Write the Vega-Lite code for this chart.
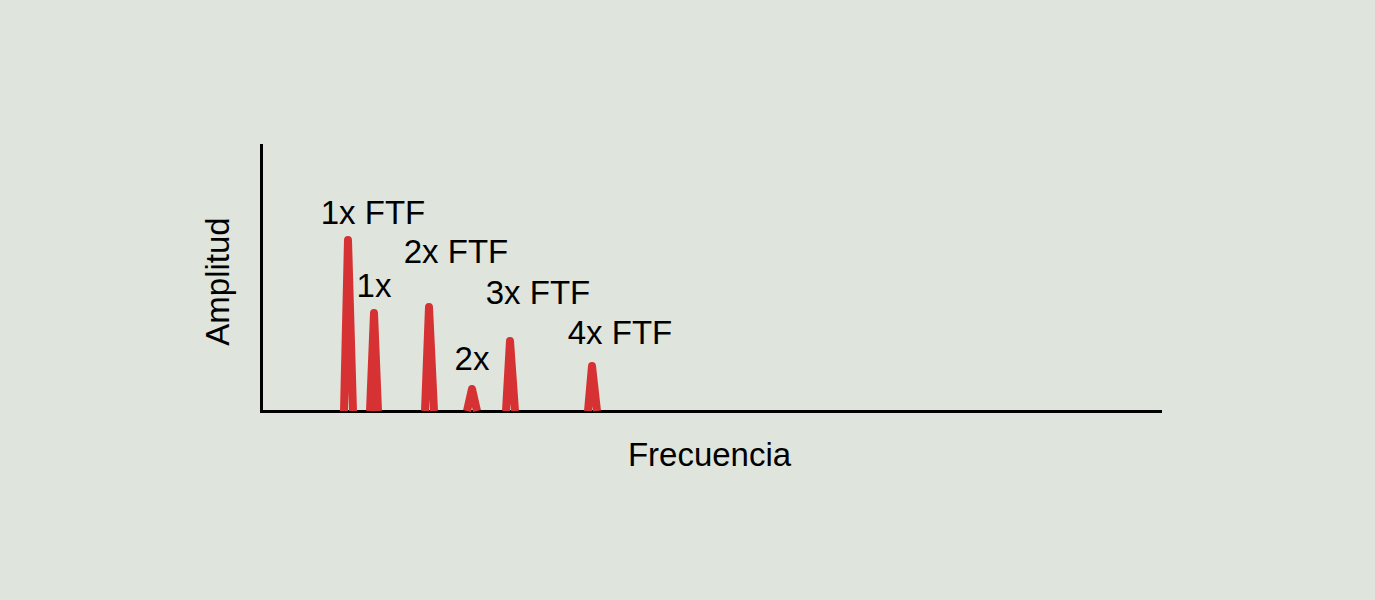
{
  "$schema": "https://vega.github.io/schema/vega-lite/v6.json",
  "width": 899,
  "height": 266,
  "autosize": {"type": "none"},
  "padding": {"left": 261, "top": 145, "right": 215, "bottom": 189},
  "background": "#dfe5dc",
  "config": {
    "view": {"stroke": null},
    "font": "Liberation Sans",
    "axis": {
      "domainColor": "#000000",
      "domainWidth": 3,
      "domainCap": "square",
      "ticks": false,
      "labels": false,
      "grid": false,
      "titleFont": "Liberation Sans",
      "titleFontSize": 33,
      "titleFontWeight": "normal",
      "titleColor": "#000000",
      "zindex": 1
    }
  },
  "datasets": {
    "peaks": [
      {"peak": "p1", "i": 0, "freq": 83, "amp": 0},
      {"peak": "p1", "i": 1, "freq": 87, "amp": 171},
      {"peak": "p1", "i": 2, "freq": 92, "amp": 0},
      {"peak": "p2", "i": 0, "freq": 109, "amp": 0},
      {"peak": "p2", "i": 1, "freq": 113, "amp": 98},
      {"peak": "p2", "i": 2, "freq": 117, "amp": 0},
      {"peak": "p3", "i": 0, "freq": 164, "amp": 0},
      {"peak": "p3", "i": 1, "freq": 168, "amp": 104},
      {"peak": "p3", "i": 2, "freq": 173, "amp": 0},
      {"peak": "p4", "i": 0, "freq": 206, "amp": 0},
      {"peak": "p4", "i": 1, "freq": 211, "amp": 22},
      {"peak": "p4", "i": 2, "freq": 216, "amp": 0},
      {"peak": "p5", "i": 0, "freq": 245, "amp": 0},
      {"peak": "p5", "i": 1, "freq": 249, "amp": 70},
      {"peak": "p5", "i": 2, "freq": 254, "amp": 0},
      {"peak": "p6", "i": 0, "freq": 327, "amp": 0},
      {"peak": "p6", "i": 1, "freq": 331, "amp": 45},
      {"peak": "p6", "i": 2, "freq": 336, "amp": 0}
    ],
    "labels": [
      {"label": "1x FTF", "freq": 112, "amp": 187},
      {"label": "1x", "freq": 113, "amp": 114},
      {"label": "2x FTF", "freq": 195, "amp": 148},
      {"label": "2x", "freq": 211, "amp": 41},
      {"label": "3x FTF", "freq": 277, "amp": 107},
      {"label": "4x FTF", "freq": 359, "amp": 67}
    ]
  },
  "layer": [
    {
      "data": {"name": "peaks"},
      "mark": {"type": "line", "color": "#d63233", "strokeWidth": 8, "strokeJoin": "round", "strokeCap": "butt"},
      "encoding": {
        "x": {"field": "freq", "type": "quantitative", "scale": {"domain": [0, 899], "nice": false, "zero": false},
              "axis": {"title": "Frecuencia", "titleX": 448, "titleY": 54, "titleBaseline": "alphabetic", "titleAlign": "center"}},
        "y": {"field": "amp", "type": "quantitative", "scale": {"domain": [0, 266], "nice": false},
              "axis": {"title": "Amplitud", "titleX": -33, "titleY": 136, "titleAngle": -90, "titleBaseline": "alphabetic", "titleAlign": "center"}},
        "detail": {"field": "peak"},
        "order": {"field": "i"}
      }
    },
    {
      "data": {"name": "labels"},
      "mark": {"type": "text", "font": "Liberation Sans", "fontSize": 33, "color": "#000000", "align": "center", "baseline": "alphabetic"},
      "encoding": {
        "x": {"field": "freq", "type": "quantitative"},
        "y": {"field": "amp", "type": "quantitative"},
        "text": {"field": "label"}
      }
    }
  ]
}
